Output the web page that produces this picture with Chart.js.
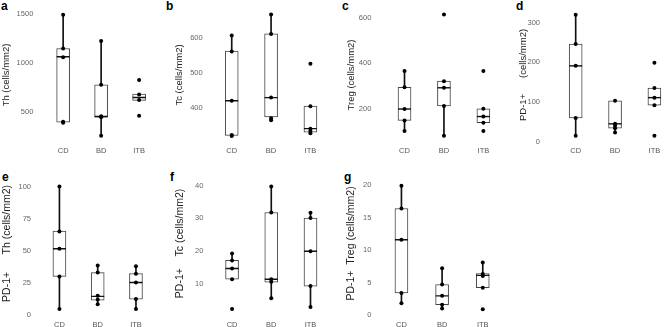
<!DOCTYPE html>
<html>
<head>
<meta charset="utf-8">
<script src="https://cdn.jsdelivr.net/npm/chart.js@4.4.1/dist/chart.umd.min.js"></script>
<style>
  html, body { margin: 0; padding: 0; background: #fff; overflow: hidden; }
  body { width: 669px; height: 327px; position: relative; font-family: "Liberation Sans", Arial, sans-serif; }
  canvas { position: absolute; }
  .lbl { position: absolute; font-weight: bold; font-size: 12px; line-height: 12px; color: #000; }
</style>
</head>
<body>
<div class="lbl" style="left:1px;top:0px">a</div>
<div class="lbl" style="left:166px;top:0px">b</div>
<div class="lbl" style="left:342px;top:0px">c</div>
<div class="lbl" style="left:516px;top:0px">d</div>
<div class="lbl" style="left:2px;top:171px">e</div>
<div class="lbl" style="left:170px;top:171px">f</div>
<div class="lbl" style="left:344px;top:171px">g</div>

<canvas id="pa"></canvas>
<canvas id="pb"></canvas>
<canvas id="pc"></canvas>
<canvas id="pd"></canvas>
<canvas id="pe"></canvas>
<canvas id="pf"></canvas>
<canvas id="pg"></canvas>

<script>
const categories = ['CD', 'BD', 'ITB'];

// a - Th
const thPoints = [[1490, 1148, 1059, 405, 395], [1225, 779, 460, 450, 262], [828, 680, 624, 465]];
const thBox = [[400, 1064, 1148], [450, 458, 779], [621, 650, 686]];   // q1, median, q3
const thWhisk = [[400, 1490], [262, 1225], [621, 686]];
const thTicks = [500, 1000, 1500];

// b - Tc
const tcPoints = [[607, 561, 420, 322, 319], [667, 611, 429, 370, 364], [526, 404, 340, 333, 327]];
const tcBox = [[321, 420, 562], [374, 429, 612], [330, 340, 405]];
const tcWhisk = [[319, 607], [364, 667], [330, 405]];
const tcTicks = [400, 500, 600];

// c - Treg
const tregPoints = [[367, 295, 200, 150, 104], [614, 322, 293, 213, 83], [367, 201, 167, 140, 104]];
const tregBox = [[150, 200, 295], [213, 293, 322], [140, 167, 201]];
const tregWhisk = [[104, 367], [83, 322], [140, 201]];
const tregTicks = [200, 400, 600];

// d - PD-1+
const pdPoints = [[320, 246, 191, 60, 15], [103, 45, 40, 34, 23], [199, 135, 111, 92, 15]];
const pdBox = [[60, 191, 246], [34, 45, 103], [92, 111, 135]];
const pdWhisk = [[15, 320], [23, 103], [92, 135]];
const pdTicks = [0, 100, 200, 300];

// e - PD-1+ Th
const pdThPoints = [[100, 65, 51.5, 30, 4.6], [38.5, 33, 15, 12, 8.3], [38, 32, 25.3, 12.4, 4.6]];
const pdThBox = [[30, 51.5, 65.2], [11.6, 14.5, 33], [12.4, 25.3, 32.2]];
const pdThWhisk = [[4.6, 100], [8.3, 38.5], [4.6, 38]];
const pdThTicks = [0, 25, 50, 75, 100];

// f - PD-1+ Tc
const pdTcPoints = [[19.2, 17.1, 14.6, 11.3, 2.2], [39.8, 31.8, 11.3, 10.5, 5.5], [31.7, 30.1, 19.9, 9.2, 2.8]];
const pdTcBox = [[11.3, 14.6, 17.1], [10.4, 11.3, 31.8], [9.2, 19.9, 30.1]];
const pdTcWhisk = [[11.3, 19.2], [5.5, 39.8], [2.8, 31.7]];
const pdTcTicks = [10, 20, 30, 40];

// g - PD-1+ Treg
const pdTregPoints = [[19.9, 16.4, 11.6, 3.4, 1.8], [7.2, 4.7, 2.95, 1.6, 1.0], [8.1, 6.3, 6.0, 4.2, 0.9]];
const pdTregBox = [[3.4, 11.6, 16.4], [1.6, 2.95, 4.7], [4.2, 6.1, 6.4]];
const pdTregWhisk = [[1.8, 19.9], [1.0, 7.2], [4.2, 8.1]];
const pdTregTicks = [0, 5, 10, 15, 20];

const FONT = '"Liberation Sans", Arial, sans-serif';

// ред 0 - горе, ред 1 - долу: позиция на canvas и граници на chart area
const rows = [
    { top: 0, h: 160, ct: 5, cb: 142, titleSize: 9.5 },
    { top: 163, h: 164, ct: 170, cb: 316, titleSize: 10.5 }
];

function boxPanel(id, g, points, box, whisk, ticks, title) {
    const row = rows[g.row];
    const x0 = Math.round(g.titleX - row.titleSize * 0.6);
    const w = Math.ceil(g.xr - x0);
    const yw = g.xl - x0;
    const xh = row.top + row.h - row.cb;

    const canvas = document.getElementById(id);
    canvas.width = w;
    canvas.height = row.h;
    canvas.style.left = x0 + 'px';
    canvas.style.top = row.top + 'px';

    const pts = [];
    points.forEach((arr, i) => arr.forEach(v => pts.push({ x: categories[i], y: v })));

    new Chart(canvas, {
        type: 'bar',
        data: {
            labels: categories,
            datasets: [
                {
                    type: 'line',
                    data: pts,
                    showLine: false,
                    pointRadius: 2,
                    pointBackgroundColor: '#000',
                    pointBorderWidth: 0
                },
                {
                    type: 'line',
                    data: box.map((b, i) => ({ x: categories[i], y: b[1] })),
                    showLine: false,
                    pointStyle: 'line',
                    pointRadius: 6.5,
                    pointBorderColor: '#111',
                    pointBorderWidth: 1.4
                },
                {
                    data: box.map(b => [b[0], b[2]]),
                    grouped: false,
                    barThickness: 13,
                    backgroundColor: '#fff',
                    borderColor: '#444',
                    borderWidth: 1,
                    borderSkipped: false
                },
                {
                    data: whisk,
                    grouped: false,
                    barThickness: 1,
                    backgroundColor: '#111',
                    borderWidth: 0
                }
            ]
        },
        options: {
            responsive: false,
            animation: false,
            events: [],
            layout: { padding: { top: row.ct - row.top, left: 0, right: w - (g.xr - x0), bottom: 0 } },
            plugins: { legend: { display: false }, tooltip: { enabled: false } },
            scales: {
                x: {
                    grid: { display: false, drawTicks: false },
                    border: { display: false },
                    ticks: { color: '#555', font: { family: FONT, size: 7.5 }, padding: 4, maxRotation: 0, autoSkip: false },
                    afterFit: s => { s.height = xh; s.paddingLeft = 0; s.paddingRight = 0; }
                },
                y: {
                    min: g.min,
                    max: g.max,
                    grid: { display: false, drawTicks: false },
                    border: { display: false },
                    afterBuildTicks: s => { s.ticks = ticks.map(v => ({ value: v })); },
                    ticks: {
                        color: '#666',
                        font: { family: FONT, size: 7.5 },
                        padding: g.xl - g.tickR,
                        callback: v => String(v)
                    },
                    title: { display: true, text: title, color: '#222', font: { family: FONT, size: row.titleSize }, padding: 0 },
                    afterFit: s => { s.width = yw; s.paddingTop = 0; s.paddingBottom = 0; }
                }
            }
        }
    });
}

boxPanel('pa', { row: 0, titleX: 7, xl: 44.15, xr: 165.65, tickR: 33.3, min: 199, max: 1560 },
    thPoints, thBox, thWhisk, thTicks, 'Th (cells/mm2)');
boxPanel('pb', { row: 0, titleX: 179.5, xl: 212.05, xr: 337.2, tickR: 202.7, min: 301.8, max: 686.1 },
    tcPoints, tcBox, tcWhisk, tcTicks, 'Tc (cells/mm2)');
boxPanel('pc', { row: 0, titleX: 351.7, xl: 384.8, xr: 510.1, tickR: 371.3, min: 55.5, max: 642.9 },
    tregPoints, tregBox, tregWhisk, tregTicks, 'Treg (cells/mm2)');
boxPanel('pd', { row: 0, titleX: 523.7, xl: 556, xr: 682, tickR: 540, min: -0.74, max: 337 },
    pdPoints, pdBox, pdWhisk, pdTicks, 'PD-1+      (cells/mm2)');
boxPanel('pe', { row: 1, titleX: 7.3, xl: 40.3, xr: 162.7, tickR: 31, min: -0.77, max: 112.1 },
    pdThPoints, pdThBox, pdThWhisk, pdThTicks, 'PD-1+      Th (cells/mm2)');
boxPanel('pf', { row: 1, titleX: 180, xl: 212.45, xr: 337.55, tickR: 203.3, min: 0.02, max: 44.58 },
    pdTcPoints, pdTcBox, pdTcWhisk, pdTcTicks, 'PD-1+    Tc (cells/mm2)');
boxPanel('pg', { row: 1, titleX: 351.7, xl: 381.1, xr: 510.6, tickR: 371.3, min: -0.15, max: 22.19 },
    pdTregPoints, pdTregBox, pdTregWhisk, pdTregTicks, 'PD-1+  Treg (cells/mm2)');
</script>
</body>
</html>
